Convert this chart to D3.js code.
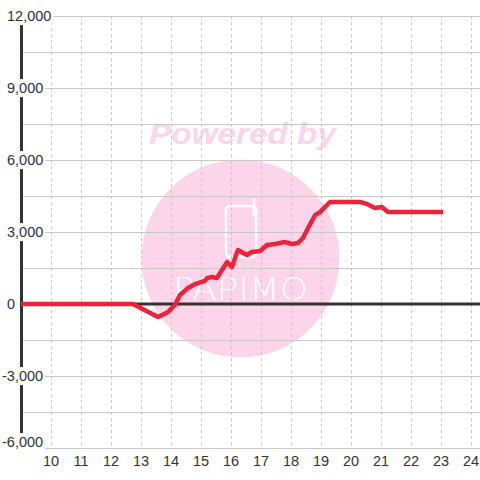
<!DOCTYPE html>
<html><head><meta charset="utf-8">
<script src="https://cdn.jsdelivr.net/npm/d3@7"></script>
<style>body{margin:0;background:#fff}svg{display:block}</style>
</head><body>
<svg id="c" width="480" height="480"></svg>
<script>
const hours = [9.0,12.73,13.57,13.9,14.13,14.3,14.57,14.8,15.13,15.2,15.37,15.53,15.87,16.03,16.23,16.53,16.7,16.97,17.2,17.47,17.8,18.03,18.23,18.4,18.57,18.8,18.97,19.13,19.3,20.3,20.53,20.8,21.03,21.23,23.07];
const values = [0,0,-540,-330,-40,375,670,830,960,1080,1125,1080,1750,1540,2250,2040,2170,2210,2460,2500,2580,2500,2540,2750,3170,3700,3830,4040,4250,4250,4170,4000,4040,3830,3830];
const xTicks = [10,11,12,13,14,15,16,17,18,19,20,21,22,23,24];
const yLabelTicks = [-6000,-3000,0,3000,6000,9000,12000];
const yGridTicks = [-6000,-4500,-3000,-1500,0,1500,3000,4500,6000,7500,9000,10500,12000];

const svg = d3.select("#c");
const x = d3.scaleLinear().domain([9,24.3]).range([21,480]);
const y = d3.scaleLinear().domain([-6000,12000]).range([448,16]);
const font = "'Liberation Sans', Arial, sans-serif";

// watermark
svg.append("circle").attr("cx",240.5).attr("cy",258.5).attr("r",99).attr("fill","#fcd5ea");
svg.append("text").attr("x",149).attr("y",144).attr("textLength",187).attr("lengthAdjust","spacingAndGlyphs")
  .attr("font-family",font).attr("font-weight","bold").attr("font-style","italic").attr("font-size",30)
  .attr("fill","#fcd5ea").text("Powered by");
svg.append("rect").attr("x",226).attr("y",206).attr("width",30).attr("height",51).attr("rx",4)
  .attr("fill","none").attr("stroke","#fff").attr("stroke-width",2.5);
svg.append("line").attr("x1",254).attr("x2",254).attr("y1",200).attr("y2",214).attr("stroke","#fff").attr("stroke-width",3).attr("stroke-linecap","round");
svg.append("text").attr("x",173).attr("y",300).attr("textLength",135).attr("lengthAdjust","spacingAndGlyphs")
  .attr("font-family","'DejaVu Sans', sans-serif").attr("font-weight",200).attr("font-size",32).attr("fill","#fff").text("PAPIMO");

// grid
svg.append("g").selectAll("line").data(yGridTicks).join("line")
  .attr("x1",21).attr("x2",480).attr("y1",d=>y(d)+0.5).attr("y2",d=>y(d)+0.5)
  .attr("stroke","#c8c8c8").attr("stroke-width",1);
svg.append("g").selectAll("line").data(xTicks).join("line")
  .attr("x1",d=>x(d)+0.5).attr("x2",d=>x(d)+0.5).attr("y1",16).attr("y2",448)
  .attr("stroke","#c8c8c8").attr("stroke-width",1).attr("stroke-dasharray","3,3");

// axes lines
svg.append("line").attr("x1",21.5).attr("x2",21.5).attr("y1",16).attr("y2",448).attr("stroke","#333").attr("stroke-width",3);
svg.append("line").attr("x1",21).attr("x2",480).attr("y1",y(0)).attr("y2",y(0)).attr("stroke","#333").attr("stroke-width",3);

// series
const pts = hours.map((h,i)=>[h,values[i]]);
svg.append("path").datum(pts).attr("fill","none").attr("stroke","#ee2239").attr("stroke-width",4.5)
  .attr("stroke-linejoin","round")
  .attr("d",d3.line().x(d=>x(d[0])).y(d=>y(d[1])));

// y labels with background
const fmt = d => d3.format(",")(d).replace("\u2212","-");
const yl = svg.append("g").selectAll("g").data(yLabelTicks).join("g");
yl.each(function(d){
  const g = d3.select(this);
  const t = g.append("text").attr("x", d<0?2:7).attr("y",d===-6000?y(d)-6:y(d)).attr("dy","0.35em")
    .attr("font-family",font).attr("font-size",14.5).attr("fill","#333").text(fmt(d));
  const b = t.node().getBBox();
  g.insert("rect","text").attr("x",0).attr("y",b.y-1).attr("width",b.x+b.width+2).attr("height",b.height+2).attr("fill","#fff");
});

// x labels
svg.append("g").selectAll("text").data(xTicks).join("text")
  .attr("x",d=>x(d)).attr("y",466).attr("text-anchor","middle")
  .attr("font-family",font).attr("font-size",14.5).attr("fill","#333").text(d=>d);
</script>
</body></html>
